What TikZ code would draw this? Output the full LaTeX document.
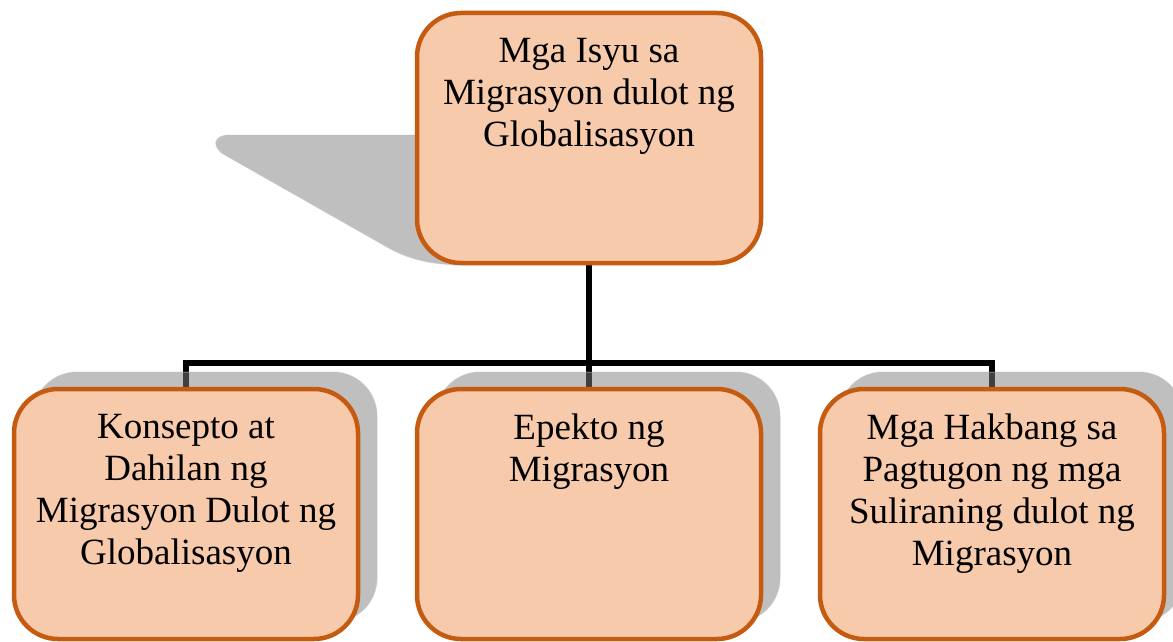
\documentclass[tikz,border=0pt]{standalone}
\usepackage{fontspec}
\setmainfont{Liberation Serif}
\usetikzlibrary{positioning, shadows, backgrounds}
\definecolor{boxfill}{HTML}{F7CAAC}
\definecolor{boxline}{HTML}{C55A11}
\tikzset{
  topic/.style={draw=boxline, fill=boxfill, line width=4.5pt, rounded corners=44pt,
    minimum width=344pt, minimum height=250pt, inner sep=0pt, outer sep=0pt},
  subtopic/.style={topic, drop shadow={shadow xshift=19pt, shadow yshift=17pt,
    fill=black!50, draw=black!25, line width=1pt, opacity=.5}},
  topictext/.style={anchor=north, align=center, inner sep=0pt,
    font=\fontsize{37}{42}\selectfont},
  link/.style={line width=6pt}
}

\begin{document}
\begin{tikzpicture}[x=1pt, y=-1pt]
  \useasboundingbox (0,0) rectangle (1173,642);
  \clip (0,0) rectangle (1173,642);
  % boxes
  \node[topic] (issue) at (589,138) {};
  \node[subtopic, below=126pt of issue] (effect) {};
  \node[subtopic, left=59pt of effect] (concept) {};
  \node[subtopic, right=59pt of effect] (solution) {};
  % texts
  \node[topictext, below=25pt of issue.north] (issuetext) {Mga Isyu sa\\Migrasyon dulot ng\\Globalisasyon};
  \node[topictext, below=25pt of concept.north] (concepttext) {Konsepto at\\Dahilan ng\\Migrasyon Dulot ng\\Globalisasyon};
  \node[topictext, below=25pt of effect.north] (effecttext) {Epekto ng\\Migrasyon};
  \node[topictext, below=25pt of solution.north] (solutiontext) {Mga Hakbang sa\\Pagtugon ng mga\\Suliraning dulot ng\\Migrasyon};
  \begin{scope}[on background layer]
    % shadow of the top box
    \path[fill=black!50, draw=black!25, line width=1pt, opacity=.5]
      (450,135) -- (230,135) .. controls (212,135) and (212,148) .. (225,155)
      -- (380,243) .. controls (405,258) and (425,264) .. (460,265) -- cycle;
    % connectors
    \coordinate (hub) at (589,363);
    \draw[link] (issue.south) -- (hub);
    \draw[link] (concept.north) |- (hub) -| (solution.north);
    \draw[link] (hub) -- (effect.north);
  \end{scope}
\end{tikzpicture}
\end{document}
